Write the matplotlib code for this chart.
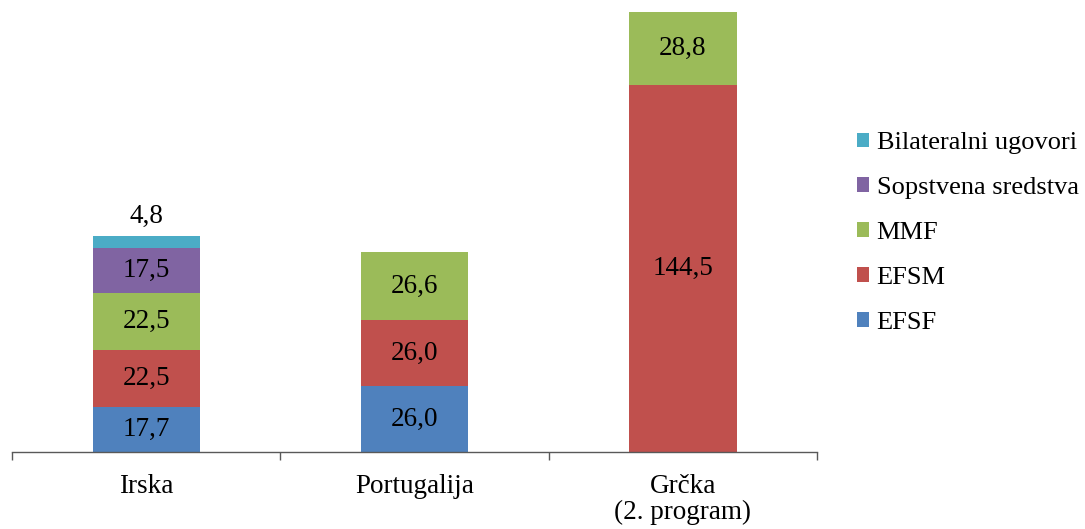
import matplotlib
matplotlib.use("Agg")
import matplotlib.pyplot as plt
from matplotlib.patches import Patch
import numpy as np

# Financing sources per programme (billion EUR)
categories = ["Irska", "Portugalija", "Grčka\n(2. program)"]
series_names = ["EFSF", "EFSM", "MMF", "Sopstvena sredstva", "Bilateralni ugovori"]
efsf = [17.7, 26.0, 0.0]
efsm = [22.5, 26.0, 144.5]
mmf = [22.5, 26.6, 28.8]
own_funds = [17.5, 0.0, 0.0]
bilateral = [4.8, 0.0, 0.0]
value_labels = {
    "EFSF": ["17,7", "26,0", ""],
    "EFSM": ["22,5", "26,0", "144,5"],
    "MMF": ["22,5", "26,6", "28,8"],
    "Sopstvena sredstva": ["17,5", "", ""],
    "Bilateralni ugovori": ["4,8", "", ""],
}
colors = ["#4F81BD", "#C0504D", "#9BBB59", "#8064A2", "#4BACC6"]

plt.rcParams["font.family"] = ["Liberation Serif", "DejaVu Serif"]
FS = 19.5

fig = plt.figure(figsize=(10.85, 5.29), dpi=100)
ax = fig.add_axes([12 / 1085, 1 - 452 / 529, (817 - 12) / 1085, (452 - 7.5) / 529])

x = np.arange(len(categories))
values = [efsf, efsm, mmf, own_funds, bilateral]
bottom = np.zeros(len(categories))
for name, vals, col in zip(series_names, values, colors):
    vals = np.array(vals)
    ax.bar(x, vals, 0.4, bottom=bottom, color=col, label=name)
    for i, v in enumerate(vals):
        lab = value_labels[name][i]
        if v > 0 and lab:
            if name == "Bilateralni ugovori":
                ax.text(x[i], bottom[i] + v + 3.0, lab, ha="center", va="bottom",
                        fontsize=FS)
            else:
                ax.text(x[i], bottom[i] + v / 2, lab, ha="center", va="center",
                        fontsize=FS)
    bottom += vals

ax.set_xlim(-0.5, 2.5)
ax.set_ylim(0, 175)
for s in ["top", "right", "left"]:
    ax.spines[s].set_visible(False)
ax.spines["bottom"].set_color("#595959")
ax.spines["bottom"].set_linewidth(1.0)
ax.set_yticks([])
ax.set_xticks(x)
ax.set_xticklabels(categories, fontsize=FS, linespacing=1.05)
ax.tick_params(axis="x", which="major", length=0, pad=16)
ax.set_xticks([-0.5, 0.5, 1.5, 2.5], minor=True)
ax.tick_params(axis="x", which="minor", length=6, color="#595959", width=1.0)

handles = [Patch(facecolor=c, edgecolor="none") for c in colors]
fig.legend(handles[::-1], series_names[::-1], loc="center left",
           bbox_to_anchor=(852 / 1085, 1 - 233 / 529), frameon=False,
           fontsize=19, handlelength=0.46, handleheight=0.46, handletextpad=0.27,
           labelspacing=0.87, borderpad=0.2, borderaxespad=0)

fig.savefig("out.png", dpi=100)
